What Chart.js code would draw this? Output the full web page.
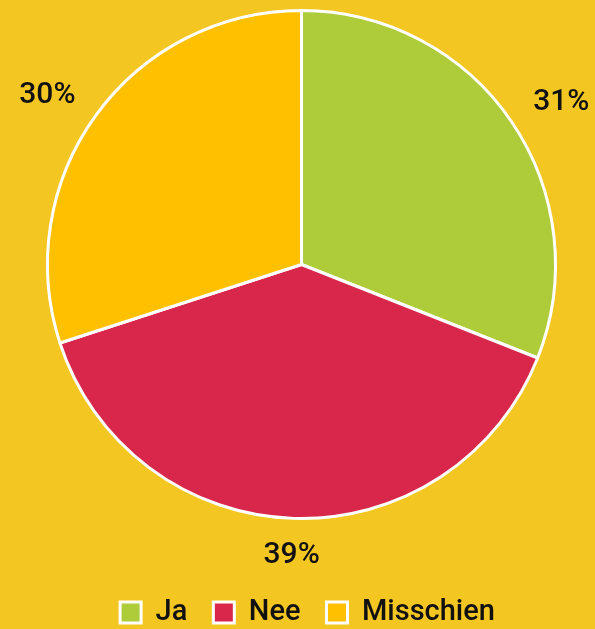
<!DOCTYPE html>
<html>
<head>
<meta charset="utf-8">
<script src="https://cdn.jsdelivr.net/npm/chart.js@4/dist/chart.umd.min.js"></script>
<style>
  html, body { margin: 0; padding: 0; background: #F3C622; }
  #wrap { width: 595px; height: 629px; position: relative; }
</style>
</head>
<body>
<div id="wrap"><canvas id="c" width="595" height="629"></canvas></div>
<script>
const categories = ["Ja", "Nee", "Misschien"];
const values = [31, 39, 30];
const valueLabels = ["31%", "39%", "30%"];
const colors = ["#AECB3A", "#D8274A", "#FFC000"];

const outsideLabels = {
  id: 'outsideLabels',
  afterDatasetsDraw(chart) {
    const ctx = chart.ctx;
    const meta = chart.getDatasetMeta(0);
    ctx.save();
    ctx.font = '500 30px Roboto';
    ctx.fillStyle = '#111111';
    ctx.textAlign = 'center';
    ctx.textBaseline = 'middle';
    meta.data.forEach((arc, i) => {
      const p = arc.getProps(['x', 'y', 'startAngle', 'endAngle', 'outerRadius'], true);
      const mid = (p.startAngle + p.endAngle) / 2;
      const dx = Math.cos(mid), dy = Math.sin(mid);
      const txt = valueLabels[i];
      const w = ctx.measureText(txt).width;
      const h = 24;
      const pad = 24;
      const x = p.x + (p.outerRadius + pad) * dx + dx * (w / 2 + 8);
      const y = p.y + (p.outerRadius + pad) * dy + dy * h / 2 + 1;
      ctx.fillText(txt, x, y);
    });
    ctx.restore();
  }
};

const legendPlacement = {
  id: 'legendPlacement',
  beforeInit(chart) {
    const origFit = chart.legend.fit;
    chart.legend.fit = function () {
      origFit.call(this);
      this.height = 109;
    };
  },
  afterLayout(chart) {
    const lg = chart.legend;
    const dy = 52, dx = 6;
    lg.top += dy; lg.bottom += dy;
    lg.left += dx; lg.right += dx;
  }
};

new Chart(document.getElementById('c'), {
  type: 'pie',
  data: {
    labels: categories,
    datasets: [{
      data: values,
      backgroundColor: colors,
      borderColor: '#FFFFFF',
      borderWidth: 3
    }]
  },
  options: {
    responsive: false,
    animation: false,
    layout: { padding: { top: 9, bottom: 0, left: 46, right: 38 } },
    plugins: {
      tooltip: { enabled: false },
      legend: {
        position: 'bottom',
        labels: {
          font: { family: 'Roboto', size: 29, weight: '500' },
          color: '#111111',
          boxWidth: 21,
          boxHeight: 21,
          padding: 26
        }
      }
    }
  },
  plugins: [legendPlacement, outsideLabels]
});
</script>
</body>
</html>
